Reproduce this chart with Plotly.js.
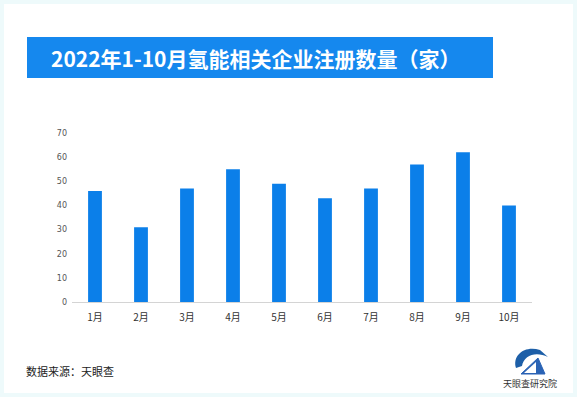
<!DOCTYPE html>
<html>
<head>
<meta charset="utf-8">
<script src="https://cdn.plot.ly/plotly-3.0.1.min.js"></script>
<style>html,body{margin:0;padding:0;background:#fff;}#chart{width:577px;height:397px;}</style>
</head>
<body>
<div id="chart"></div>
<script>
const months = ["1月","2月","3月","4月","5月","6月","7月","8月","9月","10月"];
const counts = [46, 31, 47, 55, 49, 43, 47, 57, 62, 40];
const yTicks = [0, 10, 20, 30, 40, 50, 60, 70];
const titleText = "2022年1-10月氢能相关企业注册数量（家）";
const sourceText = "数据来源：天眼查";
const logoText = "天眼查研究院";

const W = 577, H = 397;
const L = 72, R = 45, T = 133, B = 95;
const pw = W - L - R, ph = H - T - B;
const px = x => (x - L) / pw;
const py = y => (H - B - y) / ph;

const cjk = '"Noto Sans CJK SC", "Noto Sans", sans-serif';

const trace = {
  type: 'bar',
  x: months,
  y: counts,
  marker: {color: '#0b7fe9'},
  hoverinfo: 'x+y'
};

const layout = {
  width: W, height: H,
  margin: {l: L, r: R, t: T, b: B},
  paper_bgcolor: '#ffffff',
  plot_bgcolor: '#ffffff',
  bargap: 0.7,
  showlegend: false,
  font: {family: cjk, color: '#333'},
  xaxis: {
    type: 'category',
    showgrid: false,
    zeroline: false,
    showline: true,
    linecolor: '#d4d4d4',
    linewidth: 1,
    ticks: '',
    ticklabelstandoff: 6,
    tickfont: {size: 10, color: '#333', family: cjk}
  },
  yaxis: {
    range: [0, 70],
    tickvals: yTicks,
    ticktext: yTicks.map(String),
    showgrid: false,
    zeroline: false,
    showline: false,
    ticks: '',
    ticklabelstandoff: 4,
    tickfont: {size: 8, color: '#555', family: '"DejaVu Sans", sans-serif'}
  },
  shapes: [
    // faint cyan frame
    {type: 'rect', xref: 'paper', yref: 'paper', x0: px(0), x1: px(W), y0: py(H), y1: py(0),
     line: {color: '#eefafb', width: 8}, fillcolor: 'rgba(0,0,0,0)', layer: 'below'},
    // title box
    {type: 'rect', xref: 'paper', yref: 'paper', x0: px(27), x1: px(493), y0: py(78), y1: py(37),
     fillcolor: '#1588ee', line: {width: 0}},
    // logo swoosh
    {type: 'path', xref: 'paper', yref: 'paper',
     path: 'M ' + px(516) + ',' + py(368) + ' C ' + px(512) + ',' + py(355) + ' ' + px(525) + ',' + py(345) + ' ' + px(540) + ',' + py(350) +
           ' L ' + px(548) + ',' + py(357) + ' C ' + px(536) + ',' + py(351) + ' ' + px(524) + ',' + py(355) + ' ' + px(522) + ',' + py(366) + ' Z',
     fillcolor: '#1d5fa8', line: {width: 0}},
    // logo triangle
    {type: 'path', xref: 'paper', yref: 'paper',
     path: 'M ' + px(521) + ',' + py(374) + ' L ' + px(538) + ',' + py(358) + ' L ' + px(545) + ',' + py(374) + ' Z',
     fillcolor: '#2a63b5', line: {color: '#2a63b5', width: 1}},
    {type: 'path', xref: 'paper', yref: 'paper',
     path: 'M ' + px(524) + ',' + py(373) + ' L ' + px(536) + ',' + py(362) + ' L ' + px(536) + ',' + py(373) + ' Z',
     fillcolor: '#ffffff', line: {width: 0}}
  ],
  annotations: [
    {text: '<b>' + titleText + '</b>', xref: 'paper', yref: 'paper', x: px(256), y: py(57.5),
     xanchor: 'center', yanchor: 'middle', showarrow: false,
     font: {size: 21, color: '#ffffff', family: '"Noto Sans CJK SC", serif'}},
    {text: sourceText, xref: 'paper', yref: 'paper', x: px(24), y: py(371),
     xanchor: 'left', yanchor: 'middle', showarrow: false,
     font: {size: 11, color: '#222', family: cjk}},
    {text: logoText, xref: 'paper', yref: 'paper', x: px(530), y: py(383),
     xanchor: 'center', yanchor: 'middle', showarrow: false,
     font: {size: 9, color: '#333', family: cjk}}
  ]
};

Plotly.newPlot('chart', [trace], layout, {displayModeBar: false, staticPlot: true});
</script>
</body>
</html>
